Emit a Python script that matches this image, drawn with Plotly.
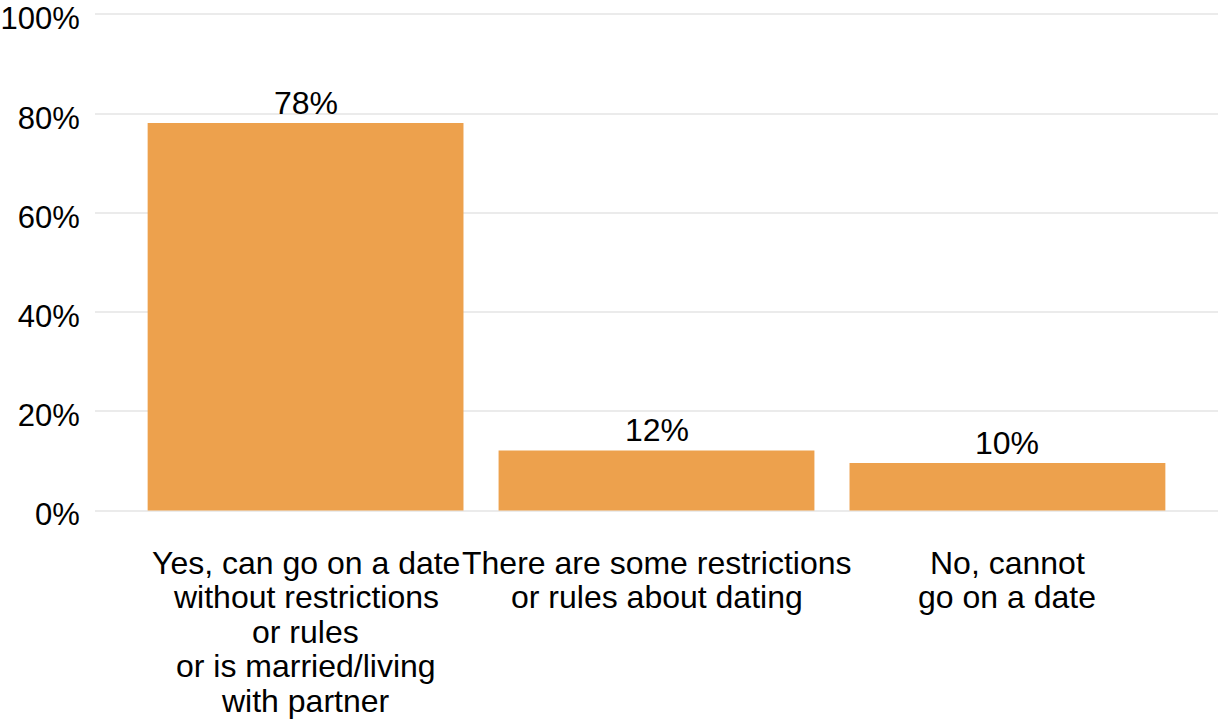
import plotly.graph_objects as go

categories = [
    "Yes, can go on a date without restrictions or rules or is married/living with partner",
    "There are some restrictions or rules about dating",
    "No, cannot go on a date",
]
category_lines = [
    ["Yes, can go on a date", "without restrictions", "or rules", "or is married/living", "with partner"],
    ["There are some restrictions", "or rules about dating"],
    ["No, cannot", "go on a date"],
]
values = [78.1, 12.1, 9.6]
value_labels = ["78%", "12%", "10%"]
y_ticks = [0, 20, 40, 60, 80, 100]
y_tick_labels = ["0%", "20%", "40%", "60%", "80%", "100%"]

FONT = "Liberation Sans, Arial, sans-serif"
BAR_COLOR = "#EDA14D"

fig = go.Figure()
fig.add_trace(go.Bar(
    x=categories, y=values, marker=dict(color=BAR_COLOR, line=dict(width=0)),
    hoverinfo="skip",
))

annotations = []
for cat, val, lab in zip(categories, values, value_labels):
    annotations.append(dict(x=cat, y=val, xref="x", yref="y", text=lab, showarrow=False,
                            yanchor="middle", yshift=20,
                            font=dict(family=FONT, size=32, color="black")))
for cat, lines in zip(categories, category_lines):
    for k, line in enumerate(lines):
        annotations.append(dict(x=cat, y=0, xref="x", yref="y", text=line, showarrow=False,
                                yanchor="middle", yshift=-(52 + 34.5 * k),
                                font=dict(family=FONT, size=32, color="black")))

fig.update_layout(
    width=1218, height=720,
    margin=dict(l=95, r=0, t=13, b=208, autoexpand=False),
    paper_bgcolor="white", plot_bgcolor="white",
    bargap=0.1, showlegend=False,
    annotations=annotations,
    font=dict(family=FONT, color="black"),
)
fig.update_xaxes(range=[-0.6, 2.6], showticklabels=False, showgrid=False, zeroline=False,
                 showline=False, ticks="", automargin=False)
fig.update_yaxes(range=[-0.3, 100.3], tickvals=y_ticks, ticktext=y_tick_labels,
                 showgrid=True, gridcolor="#EBEBEB", gridwidth=2, zeroline=False,
                 showline=False, ticks="outside", ticklen=8, tickcolor="rgba(0,0,0,0)",
                 ticklabeloverflow="allow", automargin=False, ticklabelshift=4,
                 tickfont=dict(family=FONT, size=31, color="black"))

fig.write_html("out.html", config={"displayModeBar": False},
               post_script="document.body.style.margin='0';document.body.style.overflow='hidden';")
